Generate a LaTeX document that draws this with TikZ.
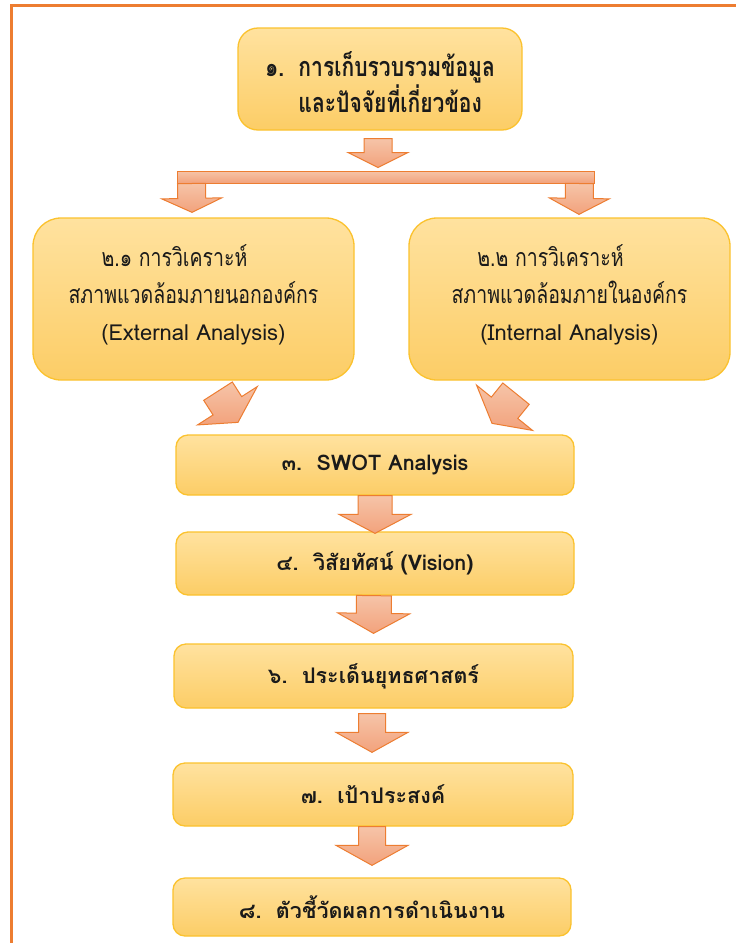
\documentclass[tikz,border=0pt]{standalone}
\usepackage{fontspec}
\setmainfont{Loma}[Script=Thai]
\newfontfamily\thaicond[Script=Thai,FakeStretch=0.78]{Loma}
\usetikzlibrary{calc}
\definecolor{boxtop}{HTML}{FFE29F}
\definecolor{boxbot}{HTML}{FCCD66}
\definecolor{boxline}{HTML}{FBC22E}
\definecolor{arrtop}{HTML}{F6C4A8}
\definecolor{arrbot}{HTML}{F2A27C}
\definecolor{arrline}{HTML}{ED7D31}
\definecolor{framec}{HTML}{ED7D31}
\definecolor{txt}{HTML}{1A1A1A}
\tikzset{
  box/.style={draw=boxline, line width=1.3pt, top color=boxtop, bottom color=boxbot,
    inner sep=0pt, text=txt, rounded corners=12pt},
  bigbox/.style={box, rounded corners=28pt},
  topbox/.style={box, rounded corners=20pt},
  arrowstyle/.style={draw=arrline, line width=1pt, top color=arrtop, bottom color=arrbot, line join=miter},
  stepfont/.style={font=\fontsize{21.5}{25}\selectfont\bfseries},
  condfont/.style={font=\thaicond\fontsize{25}{37}\selectfont},
}
\newcommand\latinline[1]{{\normalfont\fontsize{22}{37}\selectfont #1}}
\newcommand\blockarr[5]{%
  \coordinate (ban) at ($(#2)!#5!(#1)$);
  \draw[arrowstyle] ($(#1)!#3!90:(#2)$) -- ($(ban)!#3!-90:(#1)$) -- ($(ban)!#4!-90:(#1)$)
    -- (#2) -- ($(ban)!#4!90:(#1)$) -- ($(ban)!#3!90:(#1)$) -- ($(#1)!#3!-90:(#2)$) -- cycle;}
\begin{document}
\begin{tikzpicture}[x=1pt,y=-1pt]
\useasboundingbox (0,0) rectangle (736,943);
\fill[white] (0,0) rectangle (736,943);
\draw[framec, line width=2.6pt] (736,5.5) -- (11.5,5.5) -- (11.5,943);

% boxes
\node[topbox, minimum width=284pt, minimum height=102pt] (b1) at (380,79) {};
\node[align=left, text=txt, inner sep=0pt,
  font=\thaicond\fontsize{27}{33}\selectfont\bfseries] (t1) at ($(b1)+(0,3)$)
  {๑.\ \ การเก็บรวบรวมข้อมูล\\\phantom{๑.\ \ }และปัจจัยที่เกี่ยวข้อง};
\node[bigbox, minimum width=321pt, minimum height=162pt] (b21) at (193.5,299) {};
\node[align=center, text=txt, inner sep=0pt, condfont] (t21) at ($(b21)+(0,-4)$)
  {๒.๑ การวิเคราะห์\hspace*{38pt}\\สภาพแวดล้อมภายนอกองค์กร\\\latinline{(External Analysis)}};
\node[bigbox, minimum width=321pt, minimum height=162pt] (b22) at (569.5,299) {};
\node[align=center, text=txt, inner sep=0pt, condfont] (t22) at ($(b22)+(0,-4)$)
  {๒.๒ การวิเคราะห์\hspace*{38pt}\\สภาพแวดล้อมภายในองค์กร\\\latinline{(Internal Analysis)}};
\node[box, minimum width=398pt, minimum height=60pt, stepfont] (b3) at (375,465) {๓.\ \ SWOT Analysis};
\node[box, minimum width=398pt, minimum height=63pt, stepfont] (b4) at (375,563.5) {๔.\ \ วิสัยทัศน์ (Vision)};
\node[box, minimum width=399pt, minimum height=64pt, stepfont] (b6) at (373.5,676) {๖.\ \ ประเด็นยุทธศาสตร์};
\node[box, minimum width=400pt, minimum height=63pt, stepfont] (b7) at (373,794.5) {๗.\ \ เป้าประสงค์};
\node[box, minimum width=398pt, minimum height=58pt, stepfont] (b8) at (372,907) {๘.\ \ ตัวชี้วัดผลการดำเนินงาน};

% split bar
\node[draw=arrline, line width=1pt, top color=arrtop, bottom color=arrbot, inner sep=0pt,
  minimum width=417pt, minimum height=12pt] (bar) at (385.5,177) {};

% arrow end points
\coordinate (a1t) at ($(b1.south)+(-2,8)$);
\coordinate (a1h) at ($(bar.north)+(-7.5,-3)$);
\coordinate (aLt) at ($(bar.south west)+(15,0)$);
\coordinate (aLh) at ($(b21.north)+(-1.5,-5)$);
\coordinate (aRt) at ($(bar.south east)+(-15,0)$);
\coordinate (aRh) at ($(b22.north)+(9.5,-3)$);
\coordinate (dLt) at ($(b21.south)+(24.5,10.5)$);
\coordinate (dLh) at ($(b3.north)+(-137,-12)$);
\coordinate (dRt) at ($(b22.south)+(-53.5,13)$);
\coordinate (dRh) at ($(b3.north)+(117,-11)$);
\coordinate (a3t) at (b3.south);
\coordinate (a3h) at ($(b4.north)+(0,2)$);
\coordinate (a4t) at ($(b4.south)+(-1,0)$);
\coordinate (a4h) at ($(b6.north)+(0,-10)$);
\coordinate (a6t) at ($(b6.south)+(-1.5,5)$);
\coordinate (a6h) at ($(b7.north)+(-1,-10)$);
\coordinate (a7t) at ($(b7.south)+(-1,0)$);
\coordinate (a7h) at ($(b8.north)+(0,-12)$);

\blockarr{a1t}{a1h}{14pt}{30pt}{15pt}
\blockarr{aLt}{aLh}{14pt}{30pt}{14pt}
\blockarr{aRt}{aRh}{14pt}{30pt}{16pt}
\blockarr{dLt}{dLh}{17pt}{35.5pt}{19.7pt}
\blockarr{dRt}{dRh}{17pt}{36pt}{20pt}
\blockarr{a3t}{a3h}{17pt}{36pt}{19pt}
\blockarr{a4t}{a4h}{17.5pt}{36pt}{20pt}
\blockarr{a6t}{a6h}{13.5pt}{36pt}{20pt}
\blockarr{a7t}{a7h}{13.5pt}{36pt}{20pt}
\end{tikzpicture}
\end{document}
